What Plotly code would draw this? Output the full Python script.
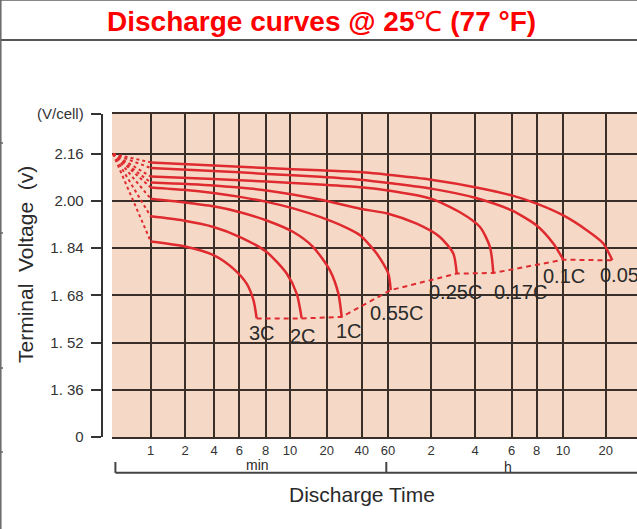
import numpy as np
import plotly.graph_objects as go

# ---------------- data ----------------
RATES = ["3C", "2C", "1C", "0.55C", "0.25C", "0.17C", "0.1C", "0.05C"]
INITIAL_V = 2.16  # open-circuit start of every curve (V/cell)

# discharge time in minutes, voltage in V/cell
T_3C = [1, 2, 4, 5.45, 6.5, 7.0, 7.25]
V_3C = [1.863, 1.846, 1.816, 1.771, 1.720, 1.664, 1.602]
T_2C = [1, 1.93, 3.95, 6.05, 8.07, 9.70, 11.35, 12.47]
V_2C = [1.948, 1.934, 1.912, 1.878, 1.827, 1.754, 1.686, 1.602]
T_1C = [1, 1.93, 3.95, 6.05, 8.07, 10.64, 15.5, 21.3, 25.2, 26.9]
V_1C = [2.008, 1.996, 1.982, 1.962, 1.934, 1.895, 1.844, 1.765, 1.686, 1.607]
T_055C = [1, 1.93, 3.95, 6.05, 8.07, 10.64, 17.6, 29.7, 38.7, 50.4, 60.3, 62.7]
V_055C = [2.046, 2.038, 2.027, 2.014, 1.997, 1.975, 1.946, 1.909, 1.884, 1.822, 1.754, 1.698]
T_025C = [1, 3.95, 8.07, 17.6, 38.7, 60.3, 95.3, 138, 170.5, 180]
V_025C = [2.063, 2.053, 2.036, 2.005, 1.974, 1.957, 1.923, 1.878, 1.822, 1.754]
T_017C = [1, 3.95, 8.07, 17.6, 38.7, 60.3, 120, 189.5, 253.6, 283.3, 293.8]
V_017C = [2.083, 2.075, 2.066, 2.056, 2.047, 2.036, 2.008, 1.962, 1.912, 1.844, 1.756]
T_01C = [1, 3.95, 8.07, 17.6, 38.7, 65.3, 120, 240, 360, 480, 552.6, 603]
V_01C = [2.112, 2.102, 2.092, 2.082, 2.072, 2.059, 2.042, 2.011, 1.968, 1.917, 1.856, 1.801]
T_005C = [1, 3.95, 8.07, 17.6, 38.7, 65.3, 120, 240, 360, 480, 603, 881.6, 1154, 1336]
V_005C = [2.131, 2.120, 2.112, 2.104, 2.098, 2.087, 2.072, 2.047, 2.019, 1.991, 1.951, 1.901, 1.856, 1.799]

# x tick marks (minutes) and their printed labels
TICK_MIN = [1, 2, 4, 6, 8, 10, 20, 40, 60, 120, 240, 360, 480, 600, 1200]
TICK_TEXT = ["1", "2", "4", "6", "8", "10", "20", "40", "60", "2", "4", "6", "8", "10", "20"]

# y ticks (V/cell) and labels (bottom of the broken axis is printed as 0)
Y_TICKS = [1.20, 1.36, 1.52, 1.68, 1.84, 2.00, 2.16, 2.295]
Y_TEXT = ["0", "1. 36", "1. 52", "1. 68", "1. 84", "2.00", "2.16", "(V/cell)"]

SERIES = [
    ("3C", T_3C, V_3C), ("2C", T_2C, V_2C), ("1C", T_1C, V_1C),
    ("0.55C", T_055C, V_055C), ("0.25C", T_025C, V_025C),
    ("0.17C", T_017C, V_017C), ("0.1C", T_01C, V_01C), ("0.05C", T_005C, V_005C),
]

# ---------------- the chart's own (stylised) time scale ----------------
SCALE_T = [0, 1, 2, 4, 6, 8, 10, 20, 40, 60, 120, 240, 360, 480, 600, 1200, 2400]
SCALE_U = [0, 37.7, 72, 101, 126.3, 152.7, 177, 213.7, 248.7, 275, 318, 362,
           398.7, 423.7, 450, 492.7, 535.4]


def tpos(t):
    t = np.asarray(t, dtype=float)
    lin = t * SCALE_U[1]
    lg = np.interp(np.log(np.maximum(t, 1.0)), np.log(SCALE_T[1:]), SCALE_U[1:])
    return np.where(t <= 1, lin, lg)


# ---------------- layout helpers ----------------
W, H = 637, 529
ML, MR, MT, MB = 90, 0, 114, 92
PW, PH = W - ML - MR, H - MT - MB


def px_x(p):
    return (p - ML) / PW


def px_y(p):
    return (H - MB - p) / PH


RED = "#DF2A2F"
GRID = "#3A2E28"
TXT = "#2a2a2a"
FONT = "Liberation Sans, Arial, sans-serif"

fig = go.Figure()

# initial (dotted) part of each curve
for name, T, V in SERIES:
    fig.add_trace(go.Scatter(
        x=tpos([0, T[0]]), y=[INITIAL_V, V[0]], mode="lines",
        line=dict(color=RED, width=2, dash="3px,3px"),
        hoverinfo="skip", showlegend=False))

# solid discharge curves
for name, T, V in SERIES:
    fig.add_trace(go.Scatter(
        x=tpos(T), y=V, mode="lines", name=name,
        line=dict(color=RED, width=2.5, shape="spline", smoothing=0.7),
        showlegend=False))

# end-of-discharge dashed line
end_t = [s[1][-1] for s in SERIES]
end_v = [s[2][-1] for s in SERIES]
fig.add_trace(go.Scatter(
    x=tpos(end_t), y=end_v, mode="lines",
    line=dict(color=RED, width=2, dash="5px,4px"),
    hoverinfo="skip", showlegend=False))

# curve labels placed relative to each curve's end point (pixel offsets)
LABEL_OFFSETS = {"3C": (5, 15), "2C": (1, 18), "1C": (7, 14), "0.55C": (6, 23),
                 "0.25C": (-1, 18), "0.17C": (27, 19), "0.1C": (1, 16), "0.05C": (14, 15)}
annotations = []
for name, T, V in SERIES:
    dx, dy = LABEL_OFFSETS[name]
    annotations.append(dict(
        x=float(tpos(T[-1])), y=V[-1], xref="x", yref="y", text=name,
        showarrow=False, xshift=dx, yshift=-dy, xanchor="center", yanchor="middle",
        font=dict(family=FONT, size=20, color=TXT)))

# title and axis titles
annotations += [
    dict(x=px_x(321.5), y=px_y(21), xref="paper", yref="paper",
         text="<b>Discharge curves @ 25</b>℃<b> (77 °F)</b>", showarrow=False,
         xanchor="center", yanchor="middle",
         font=dict(family=FONT, size=28, color="#FF0000")),
    dict(x=px_x(25), y=px_y(265), xref="paper", yref="paper",
         text="Terminal\u00a0 Voltage\u00a0 (v)", textangle=-90, showarrow=False,
         xanchor="center", yanchor="middle",
         font=dict(family=FONT, size=21, color=TXT)),
    dict(x=px_x(362), y=px_y(494), xref="paper", yref="paper",
         text="Discharge Time", showarrow=False, xanchor="center", yanchor="middle",
         font=dict(family=FONT, size=21, color=TXT)),
    dict(x=px_x(257.5), y=px_y(465), xref="paper", yref="paper",
         text="min", showarrow=False, xanchor="center", yanchor="middle",
         font=dict(family=FONT, size=14, color=TXT)),
    dict(x=px_x(507.5), y=px_y(467), xref="paper", yref="paper",
         text="h", showarrow=False, xanchor="center", yanchor="middle",
         font=dict(family=FONT, size=14, color=TXT)),
]

shapes = [
    # frame of the page
    dict(type="line", xref="paper", yref="paper", x0=px_x(0), x1=px_x(W),
         y0=px_y(40), y1=px_y(40), line=dict(color="#555", width=2)),
    dict(type="line", xref="paper", yref="paper", x0=px_x(0), x1=px_x(W),
         y0=px_y(0.5), y1=px_y(0.5), line=dict(color="#888", width=1)),
    dict(type="line", xref="paper", yref="paper", x0=px_x(0.8), x1=px_x(0.8),
         y0=px_y(0), y1=px_y(H), line=dict(color="#666", width=1.5)),
    # min / h bracket
    dict(type="line", xref="paper", yref="paper", x0=px_x(115.4), x1=px_x(W),
         y0=px_y(472.8), y1=px_y(472.8), line=dict(color="#444", width=2)),
    dict(type="line", xref="paper", yref="paper", x0=px_x(115.4), x1=px_x(115.4),
         y0=px_y(462), y1=px_y(472.8), line=dict(color="#444", width=2)),
    dict(type="line", xref="paper", yref="paper", x0=px_x(386.3), x1=px_x(386.3),
         y0=px_y(462), y1=px_y(472.8), line=dict(color="#444", width=2)),
]
for yy in (143, 233, 368, 452):
    shapes.append(dict(type="line", xref="paper", yref="paper", x0=px_x(0), x1=px_x(3),
                       y0=px_y(yy), y1=px_y(yy), line=dict(color="#666", width=1.5)))

fig.update_layout(
    width=W, height=H,
    margin=dict(l=ML, r=MR, t=MT, b=MB, pad=0),
    paper_bgcolor="white", plot_bgcolor="#F5D9C6",
    showlegend=False,
    annotations=annotations, shapes=shapes,
    xaxis=dict(
        domain=[px_x(112), 1], range=[-1, 524], type="linear",
        tickmode="array", tickvals=list(tpos([0] + TICK_MIN)), ticktext=[""] + TICK_TEXT,
        showgrid=True, gridcolor=GRID, gridwidth=2,
        showline=True, linecolor=GRID, linewidth=2, mirror=True,
        ticks="", zeroline=False, ticklabelstandoff=0,
        tickfont=dict(family=FONT, size=13, color="#333"),
        fixedrange=True,
    ),
    yaxis=dict(
        anchor="free", position=px_x(101.7), range=[1.20, 2.295],
        tickmode="array", tickvals=Y_TICKS, ticktext=Y_TEXT,
        showgrid=True, gridcolor=GRID, gridwidth=2,
        showline=True, linecolor="#333", linewidth=2,
        ticks="outside", ticklen=10, tickwidth=2, tickcolor="#333",
        ticklabelstandoff=4, zeroline=False,
        tickfont=dict(family=FONT, size=15, color="#333"),
        fixedrange=True,
    ),
)

# remove the browser's default 8px body margin so the figure sits at the page origin
fig.write_html("out.html", config={"displayModeBar": False},
               post_script="document.body.style.margin='0';document.body.style.overflow='hidden';")
